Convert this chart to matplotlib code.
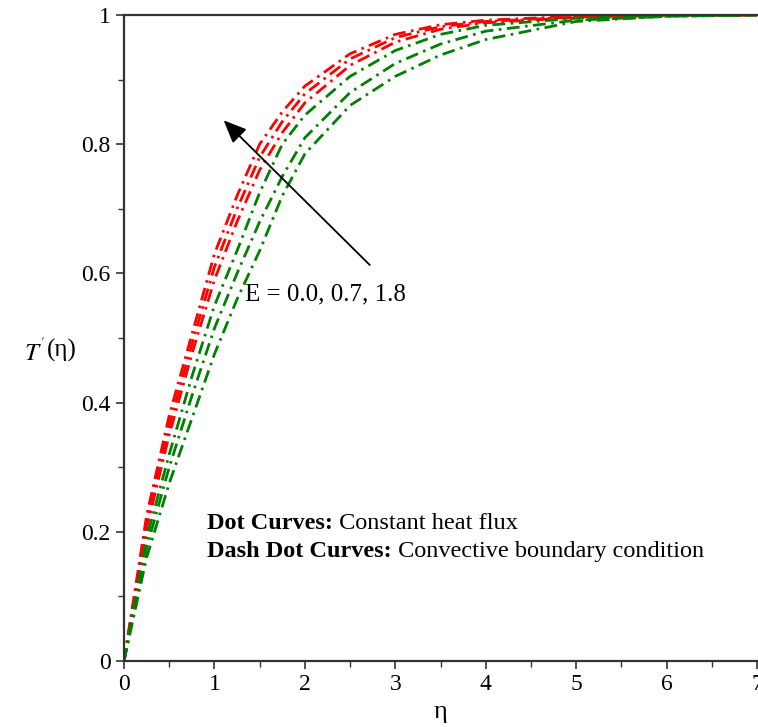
import matplotlib.pyplot as plt
import numpy as np

# eta grid and T'(eta) values
eta = [0, 0.25, 0.5, 0.75, 1.0, 1.25, 1.5, 1.75, 2.0, 2.5, 3.0, 3.5, 4.0, 5.0, 6.0, 7.0]

red_curves = [
    [0, 0.225, 0.380, 0.505, 0.630, 0.720, 0.800, 0.850, 0.890, 0.940, 0.970, 0.985, 0.992, 0.998, 1.0, 1.0],
    [0, 0.215, 0.365, 0.490, 0.610, 0.700, 0.780, 0.835, 0.878, 0.932, 0.965, 0.982, 0.990, 0.997, 1.0, 1.0],
    [0, 0.205, 0.350, 0.475, 0.590, 0.680, 0.760, 0.818, 0.864, 0.922, 0.958, 0.978, 0.988, 0.996, 0.999, 1.0],
]
green_curves = [
    [0, 0.190, 0.320, 0.440, 0.550, 0.635, 0.725, 0.800, 0.845, 0.905, 0.945, 0.970, 0.984, 0.995, 0.999, 1.0],
    [0, 0.175, 0.300, 0.410, 0.515, 0.600, 0.680, 0.750, 0.810, 0.880, 0.925, 0.955, 0.975, 0.992, 0.998, 1.0],
    [0, 0.160, 0.275, 0.375, 0.475, 0.560, 0.635, 0.720, 0.785, 0.860, 0.905, 0.938, 0.962, 0.990, 0.998, 1.0],
]

x_ticks = [0, 1, 2, 3, 4, 5, 6, 7]
y_ticks = [0, 0.2, 0.4, 0.6, 0.8, 1]
y_tick_labels = ["0", "0.2", "0.4", "0.6", "0.8", "1"]

plt.rcParams["font.family"] = ["Liberation Serif", "DejaVu Serif"]
plt.rcParams["mathtext.fontset"] = "stix"

fig = plt.figure(figsize=(7.58, 7.27), dpi=100)
ax = fig.add_axes([124 / 758, 1 - 661 / 727, 633 / 758, 646 / 727])

lw = 2.0
dash = (0, (4.6, 2.0, 0.9, 2.0))
for ys in red_curves:
    ax.plot(eta, ys, color="red", linewidth=lw, linestyle=dash)
for ys in green_curves:
    ax.plot(eta, ys, color="green", linewidth=lw, linestyle=dash)

ax.set_xlim(0, 7)
ax.set_ylim(0, 1)
ax.set_xticks(x_ticks)
ax.set_xticks(np.arange(0.5, 7, 1), minor=True)
ax.set_yticks(y_ticks)
ax.set_yticklabels(y_tick_labels)
ax.set_yticks(np.arange(0.1, 1, 0.2), minor=True)
ax.tick_params(which="major", length=6, width=1.2, labelsize=17, color="#333333")
ax.tick_params(which="minor", length=4, width=1.0, color="#333333")

for side in ["left", "bottom", "top"]:
    ax.spines[side].set_color("#333333")
    ax.spines[side].set_linewidth(1.6)
ax.spines["right"].set_visible(False)

# axis labels
fig.text(440 / 758, 1 - 712 / 727, "η", fontsize=19, va="center", ha="center")
fig.text(24 / 758, 1 - 352 / 727, r"$T^{'}$", fontsize=18, va="center", ha="left")
fig.text(47 / 758, 1 - 350 / 727, "(η)", fontsize=18, va="center", ha="left")

# arrow and parameter label
ax.annotate("", xy=(1.08, 0.84), xytext=(2.74, 0.61),
            arrowprops=dict(arrowstyle="-|>,head_length=1.4,head_width=0.6",
                            color="black", linewidth=1.3))
ax.text(1.34, 0.568, "E = 0.0, 0.7, 1.8", fontsize=18, va="center", ha="left")

t1 = ax.text(0.92, 0.213, "Dot Curves:", fontsize=17.5, fontweight="bold",
             va="center", ha="left")
ax.annotate(" Constant heat flux", xy=(1, 0.5), xycoords=t1, fontsize=17.5,
            va="center", ha="left")
t2 = ax.text(0.92, 0.169, "Dash Dot Curves:", fontsize=17.5, fontweight="bold",
             va="center", ha="left")
ax.annotate(" Convective boundary condition", xy=(1, 0.5), xycoords=t2,
            fontsize=17.5, va="center", ha="left")

fig.savefig("out.png", dpi=100)
